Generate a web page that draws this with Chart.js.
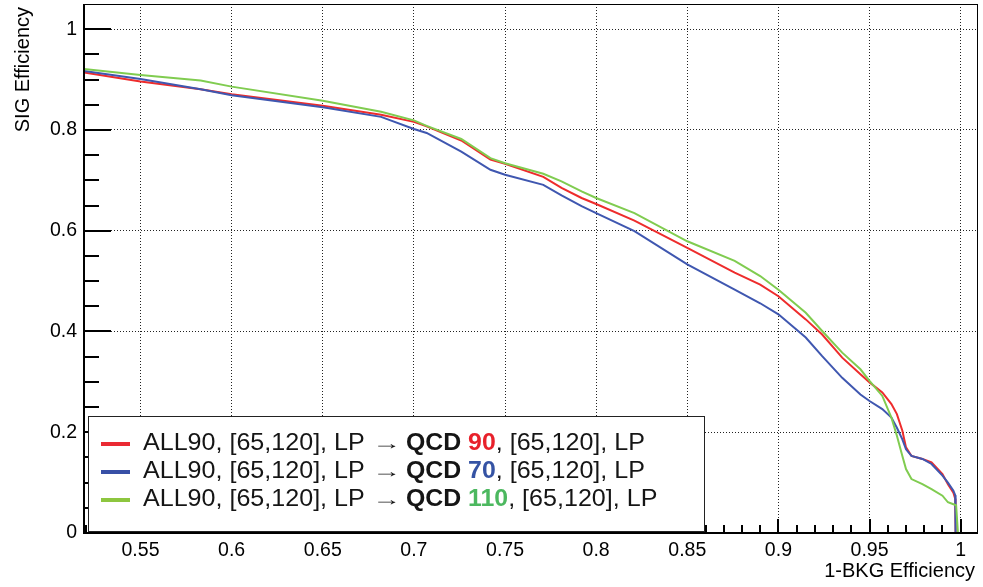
<!DOCTYPE html>
<html>
<head>
<meta charset="utf-8">
<script src="https://cdn.jsdelivr.net/npm/chart.js@4/dist/chart.umd.min.js"></script>
<style>
html,body{margin:0;padding:0;background:#fff;}
#wrap{width:983px;height:587px;position:relative;}
canvas{display:block;}
</style>
</head>
<body>
<div id="wrap"><canvas id="c" width="983" height="587"></canvas></div>
<script>
// ---- data ----
const xTickLabels = ['0.55','0.6','0.65','0.7','0.75','0.8','0.85','0.9','0.95','1'];
const yTickLabels = ['0','0.2','0.4','0.6','0.8','1'];

const bkgRed   = [0.519,0.55,0.583,0.60,0.65,0.682,0.70,0.707,0.726,0.742,0.75,0.771,0.781,0.792,0.80,0.821,0.85,0.876,0.890,0.90,0.915,0.924,0.935,0.945,0.95,0.957,0.962,0.965,0.968,0.970,0.973,0.979,0.984,0.990,0.993,0.996,0.997,0.9972];
const sigRed   = [0.914,0.896,0.881,0.871,0.848,0.830,0.816,0.807,0.779,0.741,0.733,0.707,0.685,0.665,0.653,0.620,0.566,0.517,0.493,0.470,0.424,0.394,0.348,0.315,0.299,0.279,0.256,0.236,0.203,0.170,0.153,0.147,0.140,0.117,0.097,0.080,0.068,0.0];

const bkgBlue  = [0.519,0.55,0.583,0.60,0.65,0.682,0.70,0.707,0.726,0.742,0.75,0.771,0.781,0.792,0.80,0.821,0.85,0.876,0.890,0.90,0.915,0.924,0.935,0.945,0.95,0.957,0.962,0.965,0.968,0.970,0.973,0.979,0.984,0.990,0.993,0.996,0.997,0.9972];
const sigBlue  = [0.917,0.901,0.881,0.869,0.845,0.826,0.802,0.794,0.757,0.721,0.711,0.691,0.670,0.649,0.635,0.599,0.533,0.483,0.456,0.434,0.388,0.351,0.308,0.275,0.262,0.246,0.229,0.209,0.186,0.166,0.153,0.147,0.137,0.114,0.100,0.084,0.075,0.0];

const bkgGreen = [0.519,0.55,0.583,0.60,0.65,0.682,0.70,0.707,0.726,0.742,0.75,0.771,0.781,0.792,0.80,0.821,0.85,0.876,0.890,0.90,0.915,0.924,0.935,0.945,0.95,0.957,0.962,0.965,0.968,0.970,0.973,0.979,0.984,0.990,0.993,0.996,0.9975,0.9985];
const sigGreen = [0.921,0.909,0.898,0.886,0.858,0.836,0.819,0.808,0.782,0.744,0.734,0.713,0.698,0.678,0.665,0.635,0.579,0.540,0.510,0.483,0.437,0.401,0.358,0.325,0.302,0.272,0.229,0.193,0.153,0.127,0.107,0.097,0.087,0.074,0.061,0.057,0.055,0.0];

const seriesNumbers = ['90','70','110'];
const legendPrefix = 'ALL90, [65,120], LP';
const legendSuffix = ', [65,120], LP';

// ---- styles ----
const lineColors = ['#ee2c2c','#3f57b0','#80cc50'];
const legendLineColors = ['#ea2a33','#3850a6','#8dc63f'];
const numberColors = ['#e8212b','#3553a4','#4cb85f'];
const FONT = "'Liberation Sans', Arial, Helvetica, sans-serif";

function pts(xs, ys){ return xs.map((x,i)=>({x:x, y:ys[i]})); }

function scaledText(ctx, text, x, y, font, color, sx){
  ctx.save();
  ctx.translate(x, y);
  ctx.scale(sx, 1);
  ctx.font = font;
  ctx.fillStyle = color;
  ctx.textAlign = 'left';
  ctx.textBaseline = 'alphabetic';
  ctx.fillText(text, 0, 0);
  const w = ctx.measureText(text).width * sx;
  ctx.restore();
  return w;
}

const rootPlugin = {
  id: 'rootFrame',
  afterDraw(chart){
    const ctx = chart.ctx;
    const {left,right,top,bottom} = chart.chartArea;
    const xs = chart.scales.x, ys = chart.scales.y;
    ctx.save();
    ctx.strokeStyle = '#000';
    // frame
    ctx.lineWidth = 1;
    ctx.strokeRect(left+0.5, top+0.5, right-left-1, bottom-top-1);
    ctx.lineWidth = 2;
    ctx.beginPath();
    ctx.moveTo(left, top); ctx.lineTo(left, bottom);
    ctx.lineTo(right, bottom);
    ctx.stroke();
    // y ticks (inside)
    ctx.lineWidth = 2;
    for (let k=0;k<=20;k++){
      const v = k*0.05;
      const py = Math.round(ys.getPixelForValue(v));
      const len = (k%4===0) ? 27 : 15;
      ctx.beginPath(); ctx.moveTo(left, py); ctx.lineTo(left+len, py); ctx.stroke();
    }
    // x ticks (inside)
    for (let k=52;k<=100;k++){
      const v = k/100;
      const px = Math.round(xs.getPixelForValue(v));
      const len = (k%5===0) ? 14 : 8;
      ctx.beginPath(); ctx.moveTo(px, bottom); ctx.lineTo(px, bottom-len); ctx.stroke();
    }
    // legend box
    const bx=88, by=416, bw=616, bh=115;
    ctx.fillStyle='#fff';
    ctx.fillRect(bx,by,bw,bh);
    ctx.lineWidth=1;
    ctx.strokeStyle='#222';
    ctx.strokeRect(bx+0.5,by+0.5,bw,bh);
    const baselines=[450,478,506];
    const txt = '#151515';
    for (let i=0;i<3;i++){
      const bl = baselines[i];
      ctx.strokeStyle = legendLineColors[i];
      ctx.lineWidth = 4;
      ctx.beginPath(); ctx.moveTo(101, bl-6); ctx.lineTo(130, bl-6); ctx.stroke();
      scaledText(ctx, legendPrefix, 143, bl, '24px '+FONT, txt, 1.045);
      scaledText(ctx, '\u2192', 372, bl-1, '18px '+FONT, txt, 1.6);
      let x = 406;
      x += scaledText(ctx, 'QCD ', x, bl, 'bold 24px '+FONT, txt, 1.035);
      x += scaledText(ctx, seriesNumbers[i], x, bl, 'bold 24px '+FONT, numberColors[i], 1.035);
      scaledText(ctx, legendSuffix, x, bl, '24px '+FONT, txt, 1.045);
    }
    // axis titles
    ctx.fillStyle='#000';
    ctx.font = '20px '+FONT;
    ctx.textAlign='right';
    ctx.textBaseline='middle';
    ctx.fillText('1-BKG Efficiency', 975, 571);
    ctx.save();
    ctx.translate(23, 7);
    ctx.rotate(-Math.PI/2);
    ctx.textAlign='right';
    ctx.textBaseline='middle';
    ctx.fillText('SIG Efficiency', 0, 0);
    ctx.restore();
    ctx.restore();
  }
};

new Chart(document.getElementById('c'), {
  type: 'line',
  data: {
    datasets: [
      {label:'QCD 90',  data: pts(bkgRed, sigRed),     borderColor: lineColors[0], order: 2},
      {label:'QCD 70',  data: pts(bkgBlue, sigBlue),   borderColor: lineColors[1], order: 1},
      {label:'QCD 110', data: pts(bkgGreen, sigGreen), borderColor: lineColors[2], order: 0}
    ]
  },
  options: {
    responsive: false,
    animation: false,
    devicePixelRatio: 1,
    layout: {padding: {top: 4, right: 5, left: 0, bottom: 0}},
    elements: {
      line: {borderWidth: 2, tension: 0, fill: false},
      point: {radius: 0, hoverRadius: 0}
    },
    plugins: {legend: {display: false}, tooltip: {enabled: false}},
    events: [],
    scales: {
      x: {
        type: 'linear', position: 'bottom',
        min: 0.519, max: 1.0095,
        afterBuildTicks: s => { s.ticks = xTickLabels.map(t => ({value: parseFloat(t)})); },
        afterFit: s => { s.height = 54; s.paddingLeft = 0; s.paddingRight = 0; },
        ticks: {
          autoSkip: false, maxRotation: 0, minRotation: 0, padding: 6,
          color: '#000', font: {family: FONT, size: 19.5},
          callback: (v, i) => xTickLabels[i]
        },
        grid: {color: '#222', lineWidth: 1, drawTicks: false},
        border: {display: false, dash: [1, 2]}
      },
      y: {
        type: 'linear', position: 'left',
        min: 0, max: 1.050,
        afterBuildTicks: s => { s.ticks = yTickLabels.map(t => ({value: parseFloat(t)})); },
        afterFit: s => { s.width = 84; s.paddingTop = 0; s.paddingBottom = 0; },
        ticks: {
          autoSkip: false, padding: 7,
          color: '#000', font: {family: FONT, size: 19.5},
          callback: (v, i) => yTickLabels[i]
        },
        grid: {color: '#222', lineWidth: 1, drawTicks: false},
        border: {display: false, dash: [1, 2]}
      }
    }
  },
  plugins: [rootPlugin]
});
</script>
</body>
</html>
